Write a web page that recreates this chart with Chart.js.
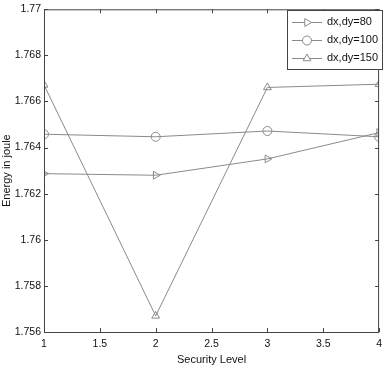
<!DOCTYPE html>
<html>
<head>
<meta charset="utf-8">
<script src="https://cdn.jsdelivr.net/npm/chart.js@4/dist/chart.umd.min.js"></script>
<style>
  html, body { margin: 0; padding: 0; background: #fff; }
  #wrap { width: 388px; height: 367px; }
</style>
</head>
<body>
<div id="wrap"><canvas id="chart"></canvas></div>
<script>
const levels = [1, 2, 3, 4];
const seriesLabels = ['dx,dy=80', 'dx,dy=100', 'dx,dy=150'];
const energy80 = [1.76287, 1.76280, 1.76351, 1.76465];
const energy100 = [1.76458, 1.76447, 1.76472, 1.76447];
const energy150 = [1.76672, 1.75670, 1.76661, 1.76675];
const xTicks = [1, 1.5, 2, 2.5, 3, 3.5, 4];
const yTicks = [1.756, 1.758, 1.76, 1.762, 1.764, 1.766, 1.768, 1.77];

const lineCol = '#8a8a8a';
const font = { family: 'Liberation Sans, Arial, sans-serif', size: 11 };
const tickFont = { family: 'Liberation Sans, Arial, sans-serif', size: 10.5 };

function toPoints(values) {
  return values.map((v, i) => ({ x: levels[i], y: v }));
}

function makeSet(label, values, style, rot) {
  return {
    label: label,
    data: toPoints(values),
    borderColor: lineCol,
    borderWidth: 1,
    backgroundColor: 'rgba(255,255,255,0)',
    pointStyle: style,
    pointRotation: rot,
    pointRadius: 4.5,
    pointBorderColor: lineCol,
    pointBorderWidth: 1,
    pointBackgroundColor: 'rgba(255,255,255,0)',
    tension: 0
  };
}

// matlab style box with inward ticks
const boxPlugin = {
  id: 'box',
  afterDraw(chart) {
    const ctx = chart.ctx;
    const a = chart.chartArea;
    const xs = chart.scales.x, ys = chart.scales.y;
    ctx.save();
    ctx.strokeStyle = '#444';
    ctx.lineWidth = 1;
    ctx.strokeRect(a.left + 0.5, a.top + 0.5, a.right - a.left - 1, a.bottom - a.top);
    ctx.beginPath();
    xTicks.forEach(t => {
      const px = Math.round(xs.getPixelForValue(t)) + 0.5;
      ctx.moveTo(px, a.bottom); ctx.lineTo(px, a.bottom - 4);
      ctx.moveTo(px, a.top); ctx.lineTo(px, a.top + 4);
    });
    yTicks.forEach(t => {
      const py = Math.round(ys.getPixelForValue(t)) + 0.5;
      ctx.moveTo(a.left, py); ctx.lineTo(a.left + 4, py);
      ctx.moveTo(a.right, py); ctx.lineTo(a.right - 4, py);
    });
    ctx.stroke();

    // legend
    const lx = 287, ly = 10, lw = 95, lh = 59;
    ctx.fillStyle = '#fff';
    ctx.fillRect(lx, ly, lw, lh);
    ctx.strokeStyle = '#444';
    ctx.strokeRect(lx + 0.5, ly + 0.5, lw, lh);
    ctx.font = '11px ' + font.family;
    ctx.textBaseline = 'middle';
    chart.data.datasets.forEach((ds, i) => {
      const y = ly + 12 + i * 18;
      ctx.strokeStyle = lineCol;
      ctx.beginPath();
      ctx.moveTo(lx + 5, y + 0.5); ctx.lineTo(lx + 35, y + 0.5);
      ctx.stroke();
      ctx.fillStyle = '#fff';
      ctx.strokeStyle = lineCol;
      ctx.lineWidth = 1;
      Chart.helpers.drawPoint(ctx, {
        pointStyle: ds.pointStyle, rotation: ds.pointRotation || 0,
        radius: 4.5, borderWidth: 1
      }, lx + 20, y + 0.5);
      ctx.fillStyle = '#111';
      ctx.fillText(ds.label, lx + 40, y);
    });
    ctx.restore();
  }
};

new Chart(document.getElementById('chart'), {
  type: 'line',
  data: {
    datasets: [
      makeSet(seriesLabels[0], energy80, 'triangle', 90),
      makeSet(seriesLabels[1], energy100, 'circle', 0),
      makeSet(seriesLabels[2], energy150, 'triangle', 0)
    ]
  },
  options: {
    responsive: true,
    maintainAspectRatio: false,
    animation: false,
    layout: { padding: { top: 5, right: 5, left: 0, bottom: 0 } },
    plugins: { legend: { display: false }, tooltip: { enabled: false } },
    scales: {
      x: {
        type: 'linear',
        min: 1, max: 4,
        afterBuildTicks: s => { s.ticks = xTicks.map(v => ({ value: v })); },
        afterFit: s => { s.height = 35; },
        grid: { display: false, drawTicks: false },
        border: { display: false },
        ticks: { color: '#111', font: tickFont, padding: 6, maxRotation: 0, callback: v => String(v) },
        title: { display: true, text: 'Security Level', color: '#111', font: font, padding: { top: 1, bottom: 0 } }
      },
      y: {
        min: 1.756, max: 1.77,
        afterBuildTicks: s => { s.ticks = yTicks.map(v => ({ value: v })); },
        afterFit: s => { s.width = 44; },
        grid: { display: false, drawTicks: false },
        border: { display: false },
        ticks: { color: '#111', font: tickFont, padding: 3, callback: v => String(+v.toFixed(3)) },
        title: { display: true, text: 'Energy in joule', color: '#111', font: font, padding: { top: 0, bottom: 0 } }
      }
    }
  },
  plugins: [boxPlugin]
});
</script>
</body>
</html>
